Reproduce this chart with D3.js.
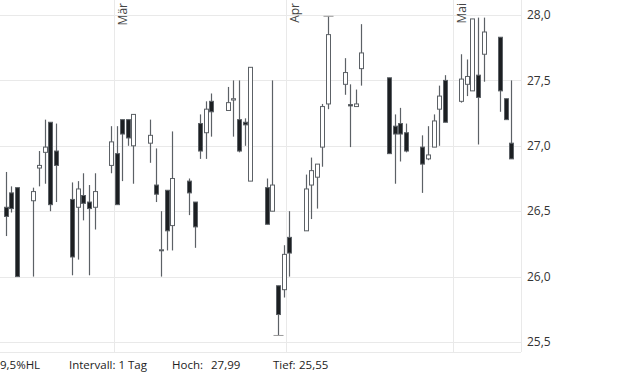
<!DOCTYPE html>
<html>
<head>
<meta charset="utf-8">
<script src="https://cdn.jsdelivr.net/npm/d3@7"></script>
<style>
  html, body { margin: 0; padding: 0; background: #fff; }
  svg { display: block; font-family: "Open Sans", "Noto Sans", sans-serif; }
</style>
</head>
<body>
<svg id="chart" width="620" height="372"></svg>
<script>
// daily candles, 2022
const dates = ["02-09","02-10","02-11","02-14","02-15","02-16","02-17","02-18",
    "02-21","02-22","02-23","02-24","02-25","02-28","03-01","03-02","03-03","03-04",
    "03-07","03-08","03-09","03-10","03-11","03-14","03-15","03-16","03-17","03-18",
    "03-21","03-22","03-23","03-24","03-25","03-28","03-29","03-30","03-31","04-01",
    "04-04","04-05","04-06","04-07","04-08","04-11","04-12","04-13","04-14",
    "04-19","04-20","04-21","04-22","04-25","04-26","04-27","04-28","04-29",
    "05-02","05-03","05-04","05-05","05-06","05-09","05-10","05-11"];
const open  = [26.53,26.64,26.68,26.58,26.83,26.95,27.18,26.96,
    26.59,26.53,26.62,26.57,26.53,26.85,26.94,27.20,27.20,27.00,
    27.02,26.70,26.20,26.66,26.39,26.73,26.57,27.17,27.10,27.34,
    27.27,27.35,27.20,27.18,26.73,26.68,26.50,25.93,25.90,26.30,
    26.35,26.70,26.76,26.99,27.32,27.47,27.315,27.30,27.59,
    27.52,27.15,27.17,27.10,26.99,26.90,26.99,27.28,27.50,
    27.34,27.47,27.42,27.54,27.70,27.83,27.36,27.02];
const high  = [26.80,26.69,26.68,26.68,26.96,27.20,27.18,27.17,
    26.72,26.73,26.79,26.70,26.79,27.15,27.15,27.20,27.20,27.24,
    27.20,26.98,26.50,26.66,27.11,26.75,26.57,27.24,27.34,27.40,
    27.45,27.50,27.50,27.21,27.60,26.75,27.50,25.93,26.24,26.50,
    26.78,26.91,26.86,27.32,27.99,27.67,27.47,27.43,27.93,
    27.52,27.24,27.29,27.17,27.08,27.15,27.24,27.46,27.54,
    27.70,27.66,27.97,27.98,27.98,27.83,27.36,27.50];
const low   = [26.31,26.49,26.00,26.00,26.69,26.71,26.50,26.57,
    26.01,26.13,26.43,26.01,26.36,26.79,26.55,26.73,27.00,26.71,
    26.87,26.57,26.00,26.20,26.20,26.47,26.22,26.90,26.90,27.07,
    27.27,27.07,26.95,27.00,26.73,26.40,26.50,25.55,25.84,26.00,
    26.35,26.44,26.52,26.84,27.28,27.39,26.99,27.30,27.46,
    26.94,26.71,26.88,26.95,26.64,26.89,26.99,27.00,27.18,
    27.33,27.38,27.42,27.01,27.49,27.26,27.20,26.90];
const close = [26.46,26.52,26.00,26.65,26.85,26.99,26.55,26.85,
    26.15,26.67,26.56,26.52,26.65,27.03,26.55,27.09,27.06,27.24,
    27.08,26.63,26.205,26.35,26.75,26.64,26.38,26.96,27.28,27.26,
    27.33,27.36,26.96,27.16,27.60,26.40,26.70,25.71,26.17,26.18,
    26.67,26.81,26.86,27.30,27.85,27.56,27.305,27.32,27.71,
    26.94,27.09,27.09,26.96,26.86,26.93,27.19,27.38,27.18,
    27.51,27.53,27.97,27.37,27.87,27.42,27.20,26.90];

const yTicks = [25.5, 26.0, 26.5, 27.0, 27.5, 28.0];
const monthTicks = ["2022-03-01","2022-04-01","2022-05-01"];
const monthLabels = ["Mär","Apr","Mai"];
const footerLabels = ["9,5%HL", "Intervall: 1 Tag", "Hoch:", "Tief:"];

(function () {
    const svg = d3.select("#chart");
    const plotW = 521, plotH = 352;
    const de = d3.formatLocale({ decimal: ",", thousands: ".", grouping: [3], currency: ["", "€"] });
    const fmt1 = de.format(".1f"), fmt2 = de.format(".2f");

    const candles = dates.map((d, i) => ({
        t: new Date(`2022-${d}T12:00:00Z`),
        o: open[i], h: high[i], l: low[i], c: close[i]
    }));

    const x = d3.scaleUtc()
        .domain([new Date("2022-03-01T00:00:00Z"), new Date("2022-05-01T00:00:00Z")])
        .range([114, 453]);
    const y = d3.scaleLinear().domain([25.5, 28]).range([342, 15]);

    const grid = svg.append("g").attr("stroke", "#e9e9e9").attr("shape-rendering", "crispEdges");
    grid.selectAll(".hg").data(yTicks).join("line")
        .attr("x1", 0).attr("x2", plotW)
        .attr("y1", d => Math.round(y(d)) + 0.5).attr("y2", d => Math.round(y(d)) + 0.5);
    grid.selectAll(".vg").data(monthTicks).join("line")
        .attr("x1", d => Math.round(x(new Date(d + "T00:00:00Z"))) + 0.5)
        .attr("x2", d => Math.round(x(new Date(d + "T00:00:00Z"))) + 0.5)
        .attr("y1", 0).attr("y2", plotH);
    grid.append("line").attr("x1", plotW + 0.5).attr("x2", plotW + 0.5).attr("y1", 0).attr("y2", plotH);
    grid.append("line").attr("x1", 0).attr("x2", plotW).attr("y1", plotH + 0.5).attr("y2", plotH + 0.5);

    // month labels, rotated
    svg.append("g").selectAll("text").data(monthTicks).join("text")
        .attr("transform", d => `translate(${x(new Date(d + "T00:00:00Z")) + 13},3) rotate(-90)`)
        .attr("text-anchor", "end")
        .attr("fill", "#444")
        .style("font-size", "12px")
        .text((d, i) => monthLabels[i]);

    // right axis
    svg.append("g").selectAll("text").data(yTicks).join("text")
        .attr("x", 527).attr("y", d => y(d))
        .attr("dy", "0.35em")
        .attr("fill", "#333")
        .style("font-size", "12px")
        .text(d => fmt1(d));

    // candles
    const bw = 4;
    const cg = svg.append("g");
    cg.selectAll(".wick").data(candles).join("line")
        .attr("x1", d => Math.round(x(d.t)) + 0.5).attr("x2", d => Math.round(x(d.t)) + 0.5)
        .attr("y1", d => y(d.h)).attr("y2", d => y(d.l))
        .attr("stroke", "#5c6166").attr("stroke-width", 1.2);
    cg.selectAll(".body").data(candles).join("rect")
        .attr("x", d => Math.round(x(d.t)) + 0.5 - bw / 2)
        .attr("width", bw)
        .attr("y", d => y(Math.max(d.o, d.c)))
        .attr("height", d => Math.max(1, Math.abs(y(d.o) - y(d.c))))
        .attr("fill", d => d.c < d.o ? "#1c1f22" : "#fff")
        .attr("stroke", "#5c6166").attr("stroke-width", 1);

    // high / low markers
    const hi = d3.greatest(candles, d => d.h);
    const lo = d3.least(candles, d => d.l);
    [[hi, hi.h], [lo, lo.l]].forEach(([d, v]) => {
        cg.append("line")
            .attr("x1", Math.round(x(d.t)) + 0.5 - 5).attr("x2", Math.round(x(d.t)) + 0.5 + 5)
            .attr("y1", y(v)).attr("y2", y(v))
            .attr("stroke", "#9a9a9a").attr("stroke-width", 1);
    });

    // footer
    const foot = svg.append("g").attr("fill", "#222").style("font-size", "11.5px");
    const fy = 369;
    foot.append("text").attr("x", 0).attr("y", fy).text(footerLabels[0]);
    foot.append("text").attr("x", 69).attr("y", fy).text(footerLabels[1]);
    foot.append("text").attr("x", 172).attr("y", fy).text(footerLabels[2]);
    foot.append("text").attr("x", 211).attr("y", fy).text(fmt2(hi.h));
    foot.append("text").attr("x", 273).attr("y", fy).text(footerLabels[3]);
    foot.append("text").attr("x", 299).attr("y", fy).text(fmt2(lo.l));
})();
</script>
</body>
</html>
